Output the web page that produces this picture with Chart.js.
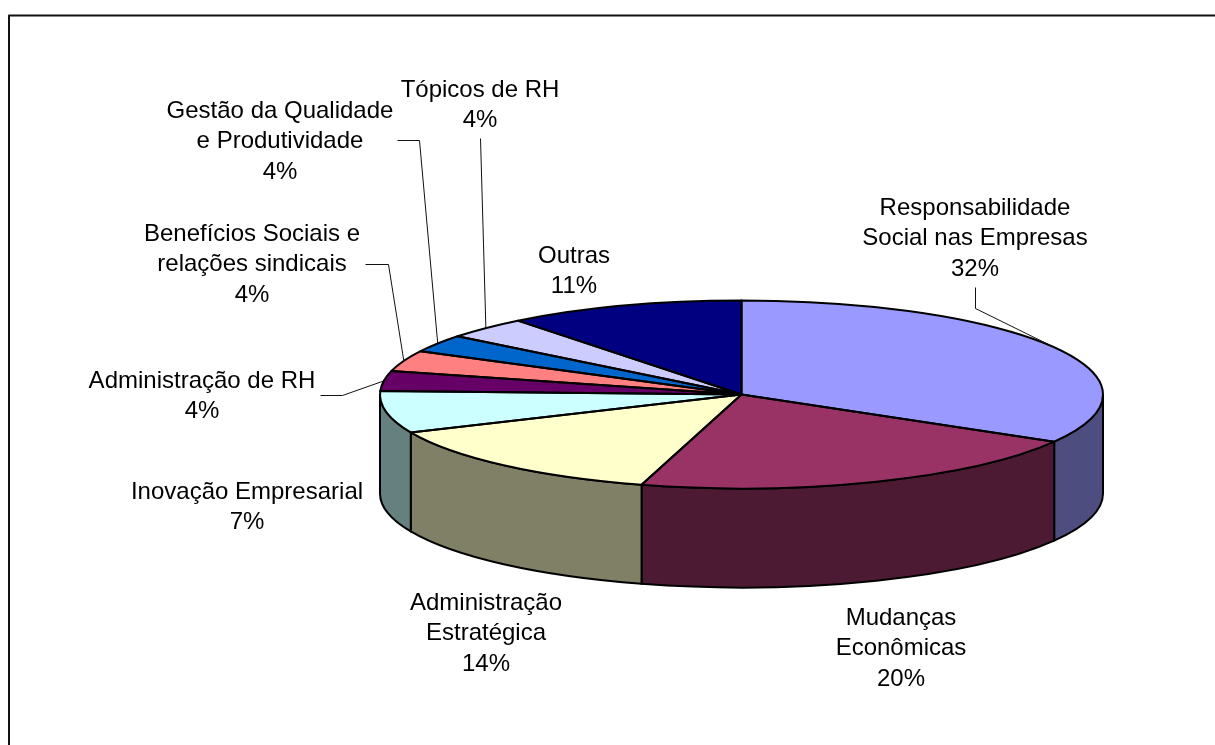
<!DOCTYPE html>
<html><head><meta charset="utf-8">
<style>html,body{margin:0;padding:0;background:#fff;overflow:hidden}canvas{display:block}</style>
<script src="https://cdn.jsdelivr.net/npm/chart.js@4/dist/chart.umd.min.js"></script>
</head><body><canvas id="c" width="1215" height="745"></canvas>
<script>
const categories = ['Responsabilidade Social nas Empresas','Mudanças Econômicas','Administração Estratégica','Inovação Empresarial','Administração de RH','Benefícios Sociais e relações sindicais','Gestão da Qualidade e Produtividade','Tópicos de RH','Outras'];
// slice sizes as drawn in the picture
const sliceValues = [33.3,21.05,13.9,7.2,3.4,3.6,3.0,3.75,10.6];
// percentages as printed on the labels
const printedPercents = ['32%','20%','14%','7%','4%','4%','4%','4%','11%'];
const topColors = ['#9999FF','#993366','#FFFFCC','#CCFFFF','#660066','#FF8080','#0066CC','#CCCCFF','#000080'];
const wallColors = ['#4D4D80','#4D1A33','#808066','#668080','#330033','#804040','#003366','#666680','#000040'];

const labelLayout = [
 {lines:['Responsabilidade','Social nas Empresas'],x:975,y:208},
 {lines:['Mudanças','Econômicas'],x:901,y:618},
 {lines:['Administração','Estratégica'],x:486,y:603},
 {lines:['Inovação Empresarial'],x:247,y:492},
 {lines:['Administração de RH'],x:202,y:381},
 {lines:['Benefícios Sociais e','relações sindicais'],x:252,y:234},
 {lines:['Gestão da Qualidade','e Produtividade'],x:280,y:111},
 {lines:['Tópicos de RH'],x:480,y:90},
 {lines:['Outras'],x:574,y:256}
];
const leaderStarts = {0:[[975,287],[975,308]],4:[[320,395],[342,395]],5:[[365,264],[388,264]],6:[[397,140],[419,140]],7:[[480,138]]};

const CX=741.5, CY=394.5, RY=94, DEPTH=99, LINE_H=30.7;
const pie3d = {
 id:'pie3d',
 beforeDatasetsDraw(chart){
  const ctx=chart.ctx, arcs=chart.getDatasetMeta(0).data, rx=arcs[0].outerRadius;
  ctx.save();
  ctx.strokeStyle='#000';ctx.lineWidth=2;
  arcs.forEach((a,i)=>{
   let s=Math.max(a.startAngle,0), e=Math.min(a.endAngle,Math.PI);
   if(e<=s) return;
   ctx.beginPath();
   ctx.ellipse(CX,CY,rx,RY,0,s,e);
   ctx.ellipse(CX,CY+DEPTH,rx,RY,0,e,s,true);
   ctx.closePath();
   ctx.fillStyle=wallColors[i];ctx.fill();ctx.stroke();
  });
  ctx.restore();
  ctx.save();
  ctx.translate(CX,CY);ctx.scale(1,RY/rx);ctx.translate(-arcs[0].x,-arcs[0].y);
 },
 afterDatasetsDraw(chart){
  const ctx=chart.ctx, arcs=chart.getDatasetMeta(0).data, rx=arcs[0].outerRadius;
  ctx.restore();
  ctx.save();
  ctx.strokeStyle='#000';ctx.lineWidth=2;ctx.lineJoin='round';
  arcs.forEach(a=>{
   ctx.beginPath();ctx.moveTo(CX,CY);
   ctx.ellipse(CX,CY,rx,RY,0,a.startAngle,a.endAngle);
   ctx.closePath();ctx.stroke();
  });
  // leader lines end at each slice's mid angle
  ctx.lineWidth=1;ctx.strokeStyle='#111';
  Object.keys(leaderStarts).forEach(k=>{
   const a=arcs[k], m=(a.startAngle+a.endAngle)/2, pts=leaderStarts[k];
   ctx.beginPath();ctx.moveTo(pts[0][0]+.5,pts[0][1]+.5);
   pts.slice(1).forEach(p=>ctx.lineTo(p[0]+.5,p[1]+.5));
   ctx.lineTo(CX+rx*Math.cos(m),CY+RY*Math.sin(m));ctx.stroke();
  });
  // frame: top and left edges only are visible
  ctx.lineWidth=2;ctx.strokeStyle='#111';
  ctx.beginPath();ctx.moveTo(1215,15.5);ctx.lineTo(9,15.5);ctx.lineTo(9,745);ctx.stroke();
  // labels
  ctx.fillStyle='#000';ctx.font='24px "Liberation Sans"';ctx.textAlign='center';ctx.textBaseline='middle';
  labelLayout.forEach((l,i)=>{
   const lines=l.lines.concat(printedPercents[i]);
   lines.forEach((t,j)=>ctx.fillText(t,l.x,l.y+j*LINE_H));
  });
  ctx.restore();
 }
};
new Chart(document.getElementById('c'),{
 type:'pie',
 data:{labels:categories,datasets:[{data:sliceValues,backgroundColor:topColors,borderWidth:0}]},
 options:{responsive:false,animation:false,
  layout:{padding:{left:380,right:1215-1103,top:0,bottom:0}},
  plugins:{legend:{display:false},tooltip:{enabled:false}}},
 plugins:[pie3d]
});
</script></body></html>
